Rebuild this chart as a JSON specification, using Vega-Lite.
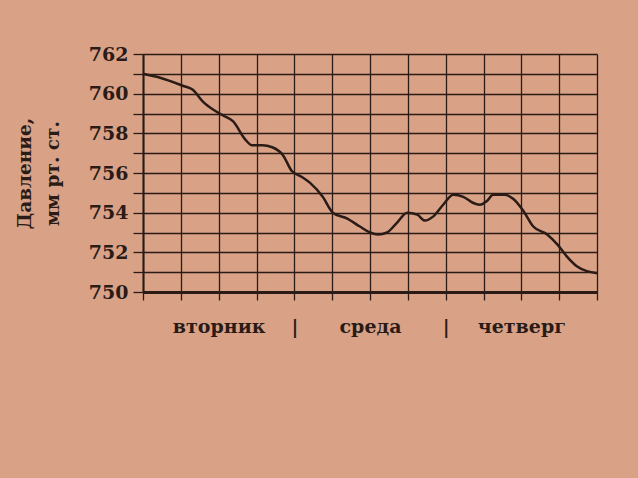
{
  "$schema": "https://vega.github.io/schema/vega-lite/v6.json",
  "width": 454,
  "height": 238,
  "autosize": "none",
  "padding": {"left": 143, "top": 54, "right": 41, "bottom": 186},
  "background": "#d9a287",
  "config": {"view": {"stroke": null}, "font": "DejaVu Serif"},
  "data": {
    "values": [
      {"hour": 0, "pressure": 761.0},
      {"hour": 2.7, "pressure": 760.8},
      {"hour": 6.3, "pressure": 760.4},
      {"hour": 7.9, "pressure": 760.2},
      {"hour": 9.5, "pressure": 759.6},
      {"hour": 11.1, "pressure": 759.2},
      {"hour": 12.7, "pressure": 758.9},
      {"hour": 14.3, "pressure": 758.6},
      {"hour": 16.2, "pressure": 757.7},
      {"hour": 17.3, "pressure": 757.4},
      {"hour": 18.9, "pressure": 757.4},
      {"hour": 20.5, "pressure": 757.3},
      {"hour": 22.2, "pressure": 756.9},
      {"hour": 23.6, "pressure": 756.1},
      {"hour": 25.2, "pressure": 755.8},
      {"hour": 26.5, "pressure": 755.5},
      {"hour": 28.5, "pressure": 754.8},
      {"hour": 30.1, "pressure": 754.0},
      {"hour": 32.4, "pressure": 753.7},
      {"hour": 34.4, "pressure": 753.3},
      {"hour": 36.0, "pressure": 753.0},
      {"hour": 37.3, "pressure": 752.9},
      {"hour": 38.7, "pressure": 753.0},
      {"hour": 40.3, "pressure": 753.5},
      {"hour": 41.9, "pressure": 754.0},
      {"hour": 43.5, "pressure": 753.9},
      {"hour": 44.7, "pressure": 753.6},
      {"hour": 46.0, "pressure": 753.8},
      {"hour": 47.6, "pressure": 754.4},
      {"hour": 49.2, "pressure": 754.9},
      {"hour": 50.8, "pressure": 754.8},
      {"hour": 52.3, "pressure": 754.5},
      {"hour": 53.4, "pressure": 754.4},
      {"hour": 54.6, "pressure": 754.6},
      {"hour": 55.5, "pressure": 754.9},
      {"hour": 57.4, "pressure": 754.9},
      {"hour": 58.7, "pressure": 754.7},
      {"hour": 60.3, "pressure": 754.1},
      {"hour": 61.9, "pressure": 753.3},
      {"hour": 64.1, "pressure": 752.9},
      {"hour": 65.7, "pressure": 752.4},
      {"hour": 67.2, "pressure": 751.8},
      {"hour": 68.8, "pressure": 751.3},
      {"hour": 70.4, "pressure": 751.05},
      {"hour": 72, "pressure": 750.95}
    ]
  },
  "mark": {"type": "line", "color": "#2b1b16", "strokeWidth": 2.5, "interpolate": "monotone"},
  "encoding": {
    "x": {
      "field": "hour",
      "type": "quantitative",
      "scale": {"domain": [0, 72], "nice": false, "zero": false},
      "axis": {
        "values": [0, 6, 12, 18, 24, 30, 36, 42, 48, 54, 60, 66, 72],
        "labelExpr": "datum.value == 12 ? 'вторник' : datum.value == 36 ? 'среда' : datum.value == 60 ? 'четверг' : (datum.value == 24 || datum.value == 48) ? '|' : ''",
        "grid": true,
        "gridColor": "#2b1b16",
        "gridWidth": 1.3,
        "gridOpacity": 1,
        "domainColor": "#2b1b16",
        "domainWidth": 3,
        "tickColor": "#2b1b16",
        "tickSize": 8,
        "tickWidth": 1.3,
        "labelFont": "DejaVu Serif",
        "labelFontWeight": "bold",
        "labelFontSize": 19,
        "labelColor": "#2b1b16",
        "labelPadding": 17,
        "labelFlush": false,
        "labelOverlap": false,
        "title": null
      }
    },
    "y": {
      "field": "pressure",
      "type": "quantitative",
      "scale": {"domain": [750, 762], "nice": false, "zero": false},
      "axis": {
        "values": [750, 751, 752, 753, 754, 755, 756, 757, 758, 759, 760, 761, 762],
        "labelExpr": "datum.value % 2 == 0 ? datum.label : ''",
        "grid": true,
        "gridColor": "#2b1b16",
        "gridWidth": 1.3,
        "gridOpacity": 1,
        "domainColor": "#2b1b16",
        "domainWidth": 2,
        "tickColor": "#2b1b16",
        "tickSize": 10,
        "tickWidth": 1.3,
        "labelFont": "DejaVu Serif",
        "labelFontWeight": "bold",
        "labelFontSize": 19,
        "labelColor": "#2b1b16",
        "labelPadding": 5,
        "labelFlush": false,
        "labelOverlap": false,
        "title": ["Давление,", "мм рт. ст."],
        "titleFont": "DejaVu Serif",
        "titleFontWeight": "bold",
        "titleFontSize": 18.5,
        "titleColor": "#2b1b16",
        "titleLineHeight": 28,
        "titlePadding": 26
      }
    }
  }
}
